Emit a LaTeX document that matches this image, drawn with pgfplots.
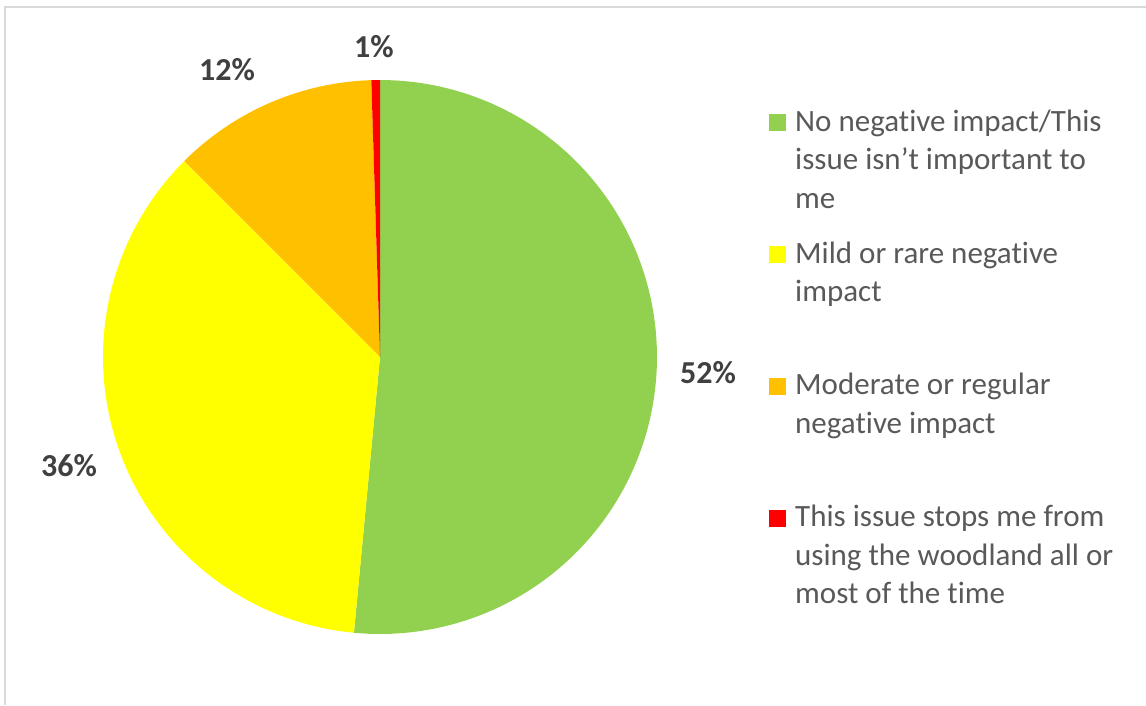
\documentclass[border=0pt]{standalone}
\usepackage{fontspec}
\setmainfont{Carlito}[Ligatures={NoCommon}]
\usepackage{pgfplots}
\usepackage{pgfplotstable}
\pgfplotsset{compat=1.18}
\definecolor{pgreen}{HTML}{92D050}
\definecolor{pyellow}{HTML}{FFFF00}
\definecolor{porange}{HTML}{FFC000}
\definecolor{pred}{HTML}{FF0000}
\definecolor{labtext}{HTML}{404040}
\definecolor{legtext}{HTML}{595959}
\definecolor{frame}{HTML}{D9D9D9}

\pgfplotstableread{
label value
green 51.5
yellow 36.0
orange 12.0
red 0.5
}\piedata

\pgfplotstablegetelem{0}{value}\of\piedata \let\vA\pgfplotsretval
\pgfplotstablegetelem{1}{value}\of\piedata \let\vB\pgfplotsretval
\pgfplotstablegetelem{2}{value}\of\piedata \let\vC\pgfplotsretval
\pgfplotstablegetelem{3}{value}\of\piedata \let\vD\pgfplotsretval
\pgfmathsetmacro\eA{3.6*\vA}
\pgfmathsetmacro\eB{\eA+3.6*\vB}
\pgfmathsetmacro\eC{\eB+3.6*\vC}
\pgfmathsetmacro\eD{\eC+3.6*\vD}

\begin{document}
\begin{tikzpicture}
\begin{axis}[
  width=1146pt, height=705pt, scale only axis,
  xmin=0, xmax=1146, ymin=0, ymax=705,
  axis lines=none, clip=false,
  legend image code/.code={\fill[#1] (0pt,0pt) rectangle (17pt,17pt);},
  legend style={at={(axis cs:769,601)}, anchor=north west, draw=none, fill=none,
    inner sep=0pt, row sep=0pt, column sep=9pt,
    nodes={inner sep=0pt, anchor=base west, text=legtext, text height=27pt, text depth=104.8pt},
    font=\fontsize{31}{38.5}\selectfont},
]
\addplot[fill=pgreen, draw=none, domain=0:\eA, samples=120] ({380+277*sin(x)},{348+277*cos(x)}) -- (axis cs:380,348) -- cycle;
\addlegendentry{\parbox[t]{350pt}{\raggedright\strut No negative impact/This\\issue isn’t important to\\me}}
\addplot[fill=pyellow, draw=none, domain=\eA:\eB, samples=90] ({380+277*sin(x)},{348+277*cos(x)}) -- (axis cs:380,348) -- cycle;
\addlegendentry{\parbox[t]{350pt}{\raggedright\strut Mild or rare negative\\impact}}
\addplot[fill=porange, draw=none, domain=\eB:\eC, samples=40] ({380+277*sin(x)},{348+277*cos(x)}) -- (axis cs:380,348) -- cycle;
\addlegendentry{\parbox[t]{350pt}{\raggedright\strut Moderate or regular\\negative impact}}
\addplot[fill=pred, draw=none, domain=\eC:\eD, samples=5] ({380+277*sin(x)},{348+277*cos(x)}) -- (axis cs:380,348) -- cycle;
\addlegendentry{\parbox[t]{350pt}{\raggedright\strut This issue stops me from\\using the woodland all or\\most of the time}}

\node[font=\bfseries\fontsize{32}{32}\selectfont, text=labtext] at (axis cs:708,332) {52\%};
\node[font=\bfseries\fontsize{32}{32}\selectfont, text=labtext] at (axis cs:69,239.5) {36\%};
\node[font=\bfseries\fontsize{32}{32}\selectfont, text=labtext] at (axis cs:227,635.5) {12\%};
\node[font=\bfseries\fontsize{32}{32}\selectfont, text=labtext] at (axis cs:374,658.5) {1\%};

\draw[frame, line width=1.5pt] (axis cs:5,0) -- (axis cs:5,698) -- (axis cs:1146,698);
\end{axis}
\pgfresetboundingbox
\useasboundingbox (current axis.south west) rectangle (current axis.north east);
\end{tikzpicture}
\end{document}
